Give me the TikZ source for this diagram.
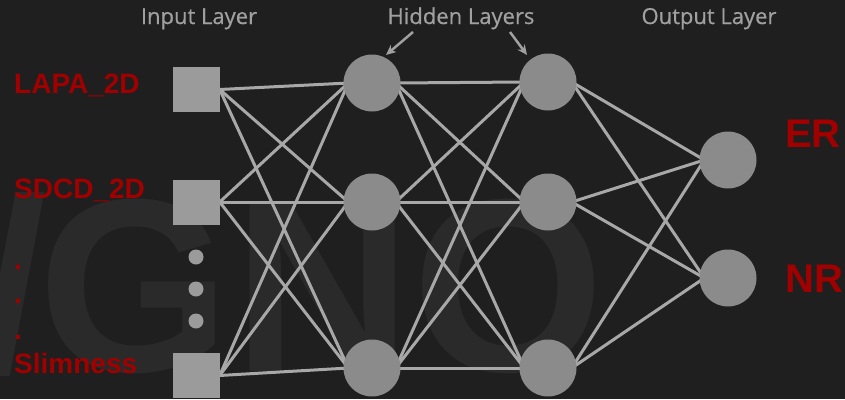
\documentclass[tikz,border=0pt]{standalone}
\usepackage{fontspec}
\newfontfamily\redfont{Liberation Sans}
\newfontfamily\headfont{Open Sans}[FakeBold=0.6]
\usetikzlibrary{arrows.meta}
\pgfdeclarelayer{backdrop}
\pgfdeclarelayer{edges}
\pgfsetlayers{backdrop,edges,main}

\definecolor{bgdark}{HTML}{1F1F1F}
\definecolor{ghost}{HTML}{2A2A2A}
\definecolor{wire}{HTML}{A8A8A8}
\definecolor{unitsq}{HTML}{9B9B9B}
\definecolor{unitci}{HTML}{8B8B8B}
\definecolor{labred}{HTML}{A00000}
\definecolor{headgray}{HTML}{A0A0A0}

\tikzset{
  insq/.style={rectangle, fill=unitsq, minimum width=47pt, minimum height=45pt, inner sep=0pt},
  neuron/.style={circle, fill=unitci, minimum size=57pt, inner sep=0pt},
  gapdot/.style={circle, fill=unitsq, minimum size=15pt, inner sep=0pt},
  wireline/.style={draw=wire, line width=3pt},
  pointer/.style={draw=headgray, line width=2.5pt, -{Stealth[length=10pt,width=9pt]}},
  varlabel/.style={anchor=base west, inner sep=0pt, text=labred, font=\redfont\bfseries\fontsize{28}{28}\selectfont},
  elide/.style={anchor=base west, inner sep=0pt, text=labred, font=\redfont\bfseries\fontsize{28}{8}\selectfont},
  outlabel/.style={anchor=base west, inner sep=0pt, text=labred, font=\redfont\bfseries\fontsize{40}{40}\selectfont},
  header/.style={anchor=base, inner sep=0pt, text=headgray, font=\headfont\fontsize{22}{22}\selectfont},
  ghostletter/.style={anchor=base west, inner sep=0pt, text=ghost, font=\redfont\bfseries\fontsize{247}{247}\selectfont},
}

\begin{document}
\begin{tikzpicture}[x=1pt, y=-1pt]
  \useasboundingbox (0,0) rectangle (845,399);

  % backdrop and faint watermark letters
  \begin{pgfonlayer}{backdrop}
    \fill[bgdark] (0,0) rectangle (845,399);
    \node[ghostletter] (gslash) at (-22,371) {/};
    \node[ghostletter] (gG) at (38,371) {G};
    \node[ghostletter] (gN) at (233,371) {N};
    \node[ghostletter] (gO) at (412,371) {O};
  \end{pgfonlayer}

  % headings
  \node[header] (hin)  at (199,24) {Input Layer};
  \node[header] (hhid) at (461,24) {Hidden Layers};
  \node[header] (hout) at (709,24) {Output Layer};

  % input layer
  \node[insq] (i1) at (196,89.5) {};
  \node[insq] (i2) at (196,202) {};
  \node[insq] (i3) at (196,375.5) {};
  \node[gapdot] (d1) at (196,257) {};
  \node[gapdot] (d2) at (196,289) {};
  \node[gapdot] (d3) at (196,321) {};

  % hidden layers
  \node[neuron] (a1) at (372,83) {};
  \node[neuron] (a2) at (372,202) {};
  \node[neuron] (a3) at (372,368) {};
  \node[neuron] (b1) at (548,82) {};
  \node[neuron] (b2) at (548,202) {};
  \node[neuron] (b3) at (548,368) {};

  % output layer
  \node[neuron] (o1) at (728,160) {};
  \node[neuron] (o2) at (728,278) {};

  % connections
  \begin{pgfonlayer}{edges}
    \foreach \s in {i1,i2,i3}
      \foreach \t in {a1,a2,a3}
        \draw[wireline] (\s.east) -- ([xshift=5pt]\t.west);
    \foreach \s in {a1,a2,a3}
      \foreach \t in {b1,b2,b3}
        \draw[wireline] ([xshift=-5pt]\s.east) -- ([xshift=5pt]\t.west);
    \foreach \s in {b1,b2,b3}
      \foreach \t in {o1,o2}
        \draw[wireline] ([xshift=-5pt]\s.east) -- ([xshift=5pt]\t.west);
  \end{pgfonlayer}

  % pointers from the hidden-layer heading
  \coordinate (pl) at (413,32);
  \coordinate (tl) at (386,55);
  \coordinate (pr) at (510,32);
  \coordinate (tr) at (527,55);
  \draw[pointer] (pl) -- (tl);
  \draw[pointer] (pr) -- (tr);

  % input variable names
  \node[varlabel] (l1) at (14,93) {LAPA\_2D};
  \node[varlabel] (l2) at (14,198) {SDCD\_2D};
  \node[elide] (e1) at (14,269) {.};
  \node[elide] (e2) at (14,303) {.};
  \node[elide] (e3) at (14,339) {.};
  \node[varlabel] (l3) at (14,373) {Slimness};

  % output names
  \node[outlabel] (r1) at (785,147) {ER};
  \node[outlabel] (r2) at (785,292) {NR};
\end{tikzpicture}
\end{document}
